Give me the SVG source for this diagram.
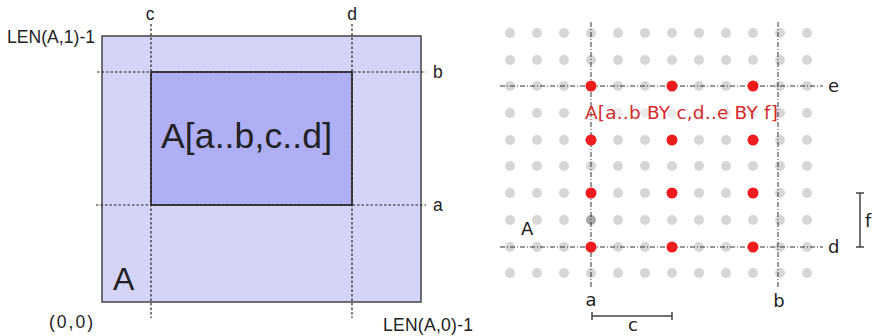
<svg xmlns="http://www.w3.org/2000/svg" width="872" height="336" viewBox="0 0 872 336">
<style>
text{font-family:"Liberation Sans",Arial,sans-serif;fill:#222}
.lbl{font-size:17.5px}
.rl{font-family:"DejaVu Sans","Liberation Sans",sans-serif;font-size:18px}
.dl{stroke:#222;stroke-width:1.2;stroke-dasharray:2.5 2;fill:none}
.dd{stroke:#333;stroke-width:1;stroke-dasharray:5 2 1 2;fill:none}
.g{fill:#d6d6d6}
.r{fill:#ee1c1c}
.bar{stroke:#444;stroke-width:1.5;fill:none}
</style>
<rect width="872" height="336" fill="#fff"/>
<!-- Left diagram -->
<g id="arrayA">
<rect x="102" y="36" width="319" height="266" fill="#d4d4f8" stroke="#444" stroke-width="1.5"/>
<text x="113" y="290" style="font-size:32px">A</text>
</g>
<g id="slice">
<rect x="151" y="72" width="201" height="133" fill="#afaff6" stroke="#333" stroke-width="1.8"/>
<text x="161" y="148" style="font-size:35.5px" textLength="171">A[a..b,c..d]</text>
</g>
<g id="guides-left">
<line class="dl" x1="151" y1="24" x2="151" y2="318"/>
<line class="dl" x1="352" y1="24" x2="352" y2="318"/>
<line class="dl" x1="97" y1="72" x2="426" y2="72"/>
<line class="dl" x1="96" y1="205" x2="426" y2="205"/>
</g>
<g id="labels-left">
<text class="lbl" x="150" y="20" text-anchor="middle">c</text>
<text class="lbl" x="352" y="20" text-anchor="middle">d</text>
<text class="lbl" x="7" y="43" textLength="88">LEN(A,1)-1</text>
<text class="lbl" x="433" y="78">b</text>
<text class="lbl" x="433" y="211">a</text>
<text class="lbl" x="49" y="328" textLength="44">(0,0)</text>
<text class="lbl" x="383" y="331" textLength="90">LEN(A,0)-1</text>
</g>
<!-- Right diagram -->
<g id="grid">
<g class="g">
<circle cx="510" cy="33" r="5"/><circle cx="537" cy="33" r="5"/><circle cx="564" cy="33" r="5"/><circle cx="591" cy="33" r="5"/><circle cx="618" cy="33" r="5"/><circle cx="645" cy="33" r="5"/><circle cx="672" cy="33" r="5"/><circle cx="699" cy="33" r="5"/><circle cx="726" cy="33" r="5"/><circle cx="753" cy="33" r="5"/><circle cx="780" cy="33" r="5"/><circle cx="807" cy="33" r="5"/>
<circle cx="510" cy="60" r="5"/><circle cx="537" cy="60" r="5"/><circle cx="564" cy="60" r="5"/><circle cx="591" cy="60" r="5"/><circle cx="618" cy="60" r="5"/><circle cx="645" cy="60" r="5"/><circle cx="672" cy="60" r="5"/><circle cx="699" cy="60" r="5"/><circle cx="726" cy="60" r="5"/><circle cx="753" cy="60" r="5"/><circle cx="780" cy="60" r="5"/><circle cx="807" cy="60" r="5"/>
<circle cx="510" cy="86" r="5"/><circle cx="537" cy="86" r="5"/><circle cx="564" cy="86" r="5"/><circle cx="618" cy="86" r="5"/><circle cx="645" cy="86" r="5"/><circle cx="699" cy="86" r="5"/><circle cx="726" cy="86" r="5"/><circle cx="780" cy="86" r="5"/><circle cx="807" cy="86" r="5"/>
<circle cx="510" cy="113" r="5"/><circle cx="537" cy="113" r="5"/><circle cx="564" cy="113" r="5"/><circle cx="780" cy="113" r="5"/><circle cx="807" cy="113" r="5"/>
<circle cx="510" cy="140" r="5"/><circle cx="537" cy="140" r="5"/><circle cx="564" cy="140" r="5"/><circle cx="618" cy="140" r="5"/><circle cx="645" cy="140" r="5"/><circle cx="699" cy="140" r="5"/><circle cx="726" cy="140" r="5"/><circle cx="780" cy="140" r="5"/><circle cx="807" cy="140" r="5"/>
<circle cx="510" cy="166" r="5"/><circle cx="537" cy="166" r="5"/><circle cx="564" cy="166" r="5"/><circle cx="591" cy="166" r="5"/><circle cx="618" cy="166" r="5"/><circle cx="645" cy="166" r="5"/><circle cx="672" cy="166" r="5"/><circle cx="699" cy="166" r="5"/><circle cx="726" cy="166" r="5"/><circle cx="753" cy="166" r="5"/><circle cx="780" cy="166" r="5"/><circle cx="807" cy="166" r="5"/>
<circle cx="510" cy="193" r="5"/><circle cx="537" cy="193" r="5"/><circle cx="564" cy="193" r="5"/><circle cx="618" cy="193" r="5"/><circle cx="645" cy="193" r="5"/><circle cx="699" cy="193" r="5"/><circle cx="726" cy="193" r="5"/><circle cx="780" cy="193" r="5"/><circle cx="807" cy="193" r="5"/>
<circle cx="510" cy="220" r="5"/><circle cx="537" cy="220" r="5"/><circle cx="564" cy="220" r="5"/><circle cx="591" cy="220" r="5" fill="#a8a8a8"/><circle cx="618" cy="220" r="5"/><circle cx="645" cy="220" r="5"/><circle cx="672" cy="220" r="5"/><circle cx="699" cy="220" r="5"/><circle cx="726" cy="220" r="5"/><circle cx="753" cy="220" r="5"/><circle cx="780" cy="220" r="5"/><circle cx="807" cy="220" r="5"/>
<circle cx="510" cy="247" r="5"/><circle cx="537" cy="247" r="5"/><circle cx="564" cy="247" r="5"/><circle cx="618" cy="247" r="5"/><circle cx="645" cy="247" r="5"/><circle cx="699" cy="247" r="5"/><circle cx="726" cy="247" r="5"/><circle cx="780" cy="247" r="5"/><circle cx="807" cy="247" r="5"/>
<circle cx="510" cy="273" r="5"/><circle cx="537" cy="273" r="5"/><circle cx="564" cy="273" r="5"/><circle cx="591" cy="273" r="5"/><circle cx="618" cy="273" r="5"/><circle cx="645" cy="273" r="5"/><circle cx="672" cy="273" r="5"/><circle cx="699" cy="273" r="5"/><circle cx="726" cy="273" r="5"/><circle cx="753" cy="273" r="5"/><circle cx="780" cy="273" r="5"/><circle cx="807" cy="273" r="5"/>
</g>
<g class="g" opacity="0.45">
<circle cx="618" cy="113" r="5"/><circle cx="645" cy="113" r="5"/><circle cx="672" cy="113" r="5"/><circle cx="699" cy="113" r="5"/><circle cx="726" cy="113" r="5"/><circle cx="753" cy="113" r="5"/>
</g>
</g>
<g id="guides-right">
<line class="dd" x1="591" y1="22" x2="591" y2="287"/>
<line class="dd" x1="778" y1="22" x2="778" y2="287"/>
<line class="dd" x1="500" y1="86" x2="823" y2="86"/>
<line class="dd" x1="500" y1="247" x2="823" y2="247"/>
</g>
<g id="selected">
<g class="r">
<circle cx="591" cy="86" r="5.5"/><circle cx="672" cy="86" r="5.5"/><circle cx="753" cy="86" r="5.5"/>
<circle cx="591" cy="140" r="5.5"/><circle cx="672" cy="140" r="5.5"/><circle cx="753" cy="140" r="5.5"/>
<circle cx="591" cy="193" r="5.5"/><circle cx="672" cy="193" r="5.5"/><circle cx="753" cy="193" r="5.5"/>
<circle cx="591" cy="247" r="5.5"/><circle cx="672" cy="247" r="5.5"/><circle cx="753" cy="247" r="5.5"/>
</g>
<text class="rl" x="585" y="119" style="font-size:18.5px;fill:#d42a2a" textLength="193">A[a..b BY c,d..e BY f]</text>
</g>
<g id="labels-right">
<text class="rl" x="828" y="92">e</text>
<text class="rl" x="828" y="253">d</text>
<text class="rl" x="591" y="306" text-anchor="middle">a</text>
<text class="rl" x="779" y="307" text-anchor="middle">b</text>
<text class="rl" x="521" y="235">A</text>
<path class="bar" d="M592 312V320M592 316H672M672 312V320"/>
<text class="rl" x="633" y="331" text-anchor="middle">c</text>
<path class="bar" d="M856 193H864M860 193V247M856 247H864"/>
<text class="rl" x="865" y="227">f</text>
</g>
</svg>
